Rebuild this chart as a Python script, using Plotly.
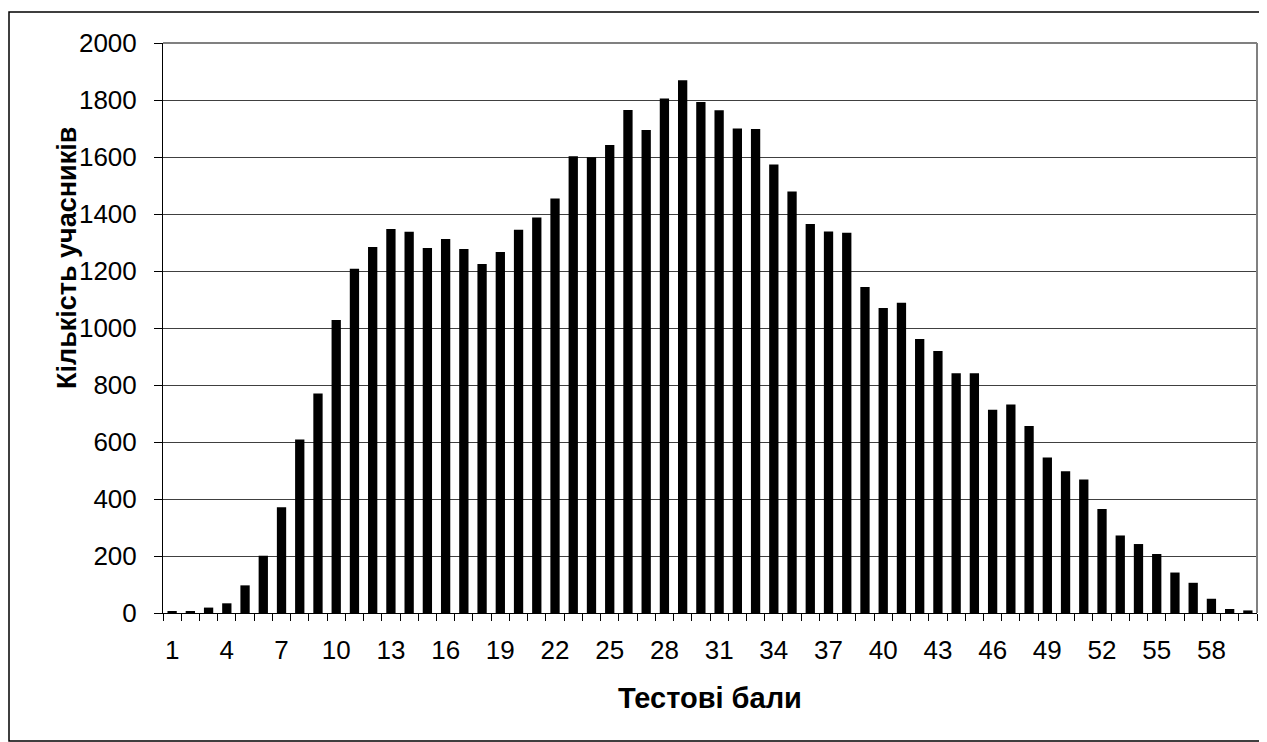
import plotly.graph_objects as go

# Тестові бали (1..60) та кількість учасників
scores = list(range(1, 61))
counts = [
    7, 4, 19, 34, 97, 201, 371, 609, 770, 1028,
    1208, 1284, 1347, 1338, 1281, 1312, 1277, 1225, 1267, 1345,
    1388, 1454, 1603, 1599, 1642, 1765, 1695, 1805, 1869, 1793,
    1764, 1700, 1698, 1574, 1479, 1365, 1339, 1334, 1144, 1070,
    1089, 961, 919, 841, 841, 713, 732, 656, 546, 497,
    468, 365, 272, 242, 207, 142, 106, 50, 14, 9,
]
tick_labels = [str(s) for s in range(1, 61, 3)]
y_ticks = list(range(0, 2001, 200))

FONT = "Liberation Sans, Arial, sans-serif"

# сторінка має відступ 8px, тому фігура трохи менша за вікно
W, H = 1259, 734
ML, MR, MT, MB = 155, 10, 35, 129
PW, PH = W - ML - MR, H - MT - MB

fig = go.Figure(
    go.Bar(x=scores, y=counts, marker=dict(color="black", line=dict(width=0)))
)

fig.update_layout(
    width=W, height=H,
    margin=dict(l=ML, r=MR, t=MT, b=MB),
    plot_bgcolor="white", paper_bgcolor="white",
    bargap=0.49,
    showlegend=False,
    font=dict(family=FONT, color="black"),
)

fig.update_xaxes(
    range=[0.5, 60.5],
    tickmode="array",
    tickvals=[int(t) for t in tick_labels],
    ticktext=tick_labels,
    ticks="", tickfont=dict(size=26), ticklabelstandoff=14,
    minor=dict(tickmode="array", tickvals=[s - 0.5 for s in scores] + [60.5],
               ticks="outside", ticklen=7, tickcolor="black", showgrid=False),
    showline=True, linecolor="black", linewidth=1,
    showgrid=False, zeroline=False,
)

fig.update_yaxes(
    range=[0, 2000],
    tickmode="array", tickvals=y_ticks,
    ticks="outside", ticklen=8, tickcolor="black",
    tickfont=dict(size=26), ticklabelstandoff=12,
    showline=True, linecolor="black", linewidth=1,
    showgrid=True, gridcolor="#404040", gridwidth=1,
    zeroline=False,
)

# підписи осей (координати у пікселях фігури)
fig.add_annotation(text="<b>Тестові бали</b>", xref="paper", yref="paper",
                   x=(702 - ML) / PW, y=(MT + PH - 690) / PH,
                   xanchor="center", yanchor="middle",
                   showarrow=False, font=dict(size=29))
fig.add_annotation(text="<b>Кількість учасників</b>", xref="paper", yref="paper",
                   x=(59 - ML) / PW, y=(MT + PH - 250) / PH, textangle=-90,
                   xanchor="center", yanchor="middle",
                   showarrow=False, font=dict(size=27))

# сіра рамка області побудови (верх і право)
fig.add_shape(type="line", xref="paper", yref="paper", x0=0, x1=1, y0=1, y1=1,
              line=dict(color="#808080", width=2))
fig.add_shape(type="line", xref="paper", yref="paper", x0=1, x1=1, y0=0, y1=1,
              line=dict(color="#808080", width=2))

# зовнішня рамка діаграми
fig.add_shape(type="rect", xref="paper", yref="paper",
              x0=(1 - ML) / PW, x1=(1257 - ML) / PW,
              y0=(MT + PH - 733) / PH, y1=(MT + PH - 4) / PH,
              line=dict(color="black", width=1.5), layer="below")

fig.write_html("out.html")
